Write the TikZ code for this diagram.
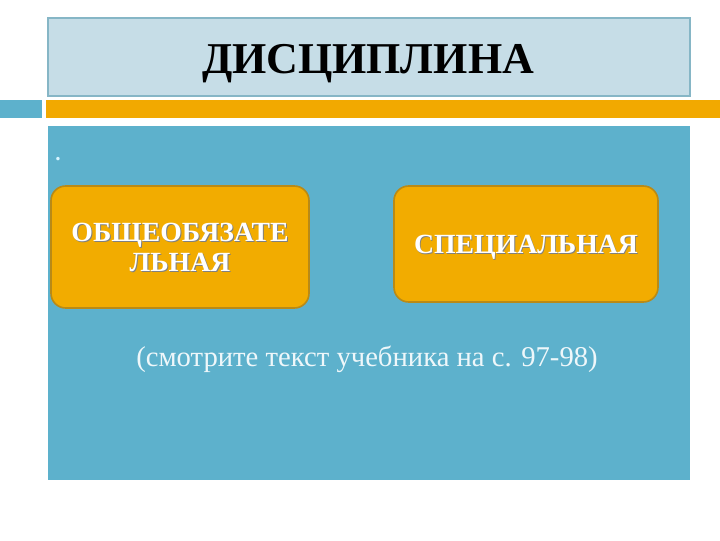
\documentclass[tikz,border=0pt]{standalone}
\usepackage{fontspec}
\setmainfont{Liberation Serif}
\definecolor{titlebg}{HTML}{C6DDE7}
\definecolor{titleline}{HTML}{86B6C6}
\definecolor{panel}{HTML}{5DB1CC}
\definecolor{bar}{HTML}{F2A900}
\definecolor{boxfill}{HTML}{F2AC00}
\definecolor{boxline}{HTML}{B98A16}
\definecolor{notetext}{HTML}{EEF7FA}
\definecolor{dotcol}{HTML}{D8F4FF}
\tikzset{
  pbox/.style={draw=boxline, line width=1.2pt, fill=boxfill, rounded corners=11pt},
  ptext/.style={font=\fontsize{20.8}{22.5}\selectfont\bfseries, text=white, align=center},
  pshadow/.style={font=\fontsize{20.8}{22.5}\selectfont\bfseries, text=black!50, align=center},
}
\begin{document}
\begin{tikzpicture}[x=0.75pt,y=-0.75pt]
\useasboundingbox (0,0) rectangle (720,540);
\fill[white] (0,0) rectangle (720,540);
% title box
\draw[titleline, fill=titlebg, line width=0.8pt] (48,18) rectangle (690,96);
\node[font=\fontsize{33}{40}\selectfont\bfseries, anchor=base] (title) at (368,73) {ДИСЦИПЛИНА};
% bars
\fill[panel] (0,100) rectangle (42,118);
\fill[bar] (46,100) rectangle (720,118);
% main panel
\fill[panel] (48,126) rectangle (690,480);
\node[text=dotcol, font=\fontsize{16}{16}\selectfont\bfseries, anchor=base] (dot) at (58,160) {.};
% boxes
\draw[pbox] (51,186) rectangle (309,308);
\draw[pbox] (394,186) rectangle (658,302);
\node[pshadow] at (181,248) {ОБЩЕОБЯЗАТЕ\\ЛЬНАЯ};
\node[ptext] (b1) at (180,247) {ОБЩЕОБЯЗАТЕ\\ЛЬНАЯ};
\node[pshadow, anchor=base] at (526.8,254) {СПЕЦИАЛЬНАЯ};
\node[ptext, anchor=base] (b2) at (526,253) {СПЕЦИАЛЬНАЯ};
% note
\node[font=\fontsize{21.5}{24}\selectfont, text=notetext, anchor=base] (note) at (367,366) {(смотрите текст учебника на с. 97-98)};
\end{tikzpicture}
\end{document}
